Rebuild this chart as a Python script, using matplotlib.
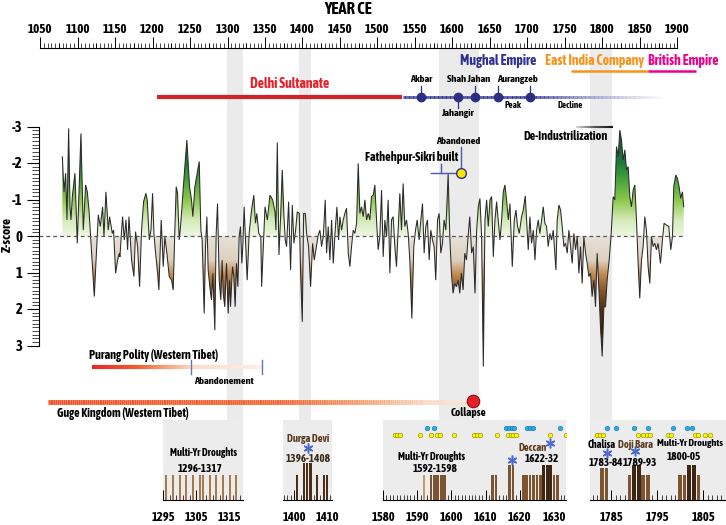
import numpy as np
import matplotlib
matplotlib.use("Agg")
import matplotlib.pyplot as plt
from matplotlib.colors import LinearSegmentedColormap
from matplotlib.collections import LineCollection
from matplotlib.path import Path
from matplotlib.ticker import FixedLocator
from matplotlib import font_manager

# pick a narrow bold face if one is installed
narrow = [f for f in font_manager.fontManager.ttflist
          if "Narrow" in f.name or "Condensed" in f.name
          or f.stretch in ("condensed", "semi-condensed", "extra-condensed", "ultra-condensed")]
narrow.sort(key=lambda f: (0 if str(f.weight) in ("bold", "700", "semibold", "600") else 1, f.name))
if narrow:
    FONT, STRETCH, SC = narrow[0].name, narrow[0].stretch, 1.0
else:
    FONT, STRETCH, SC = "Liberation Sans", "normal", 0.86
plt.rcParams["font.family"] = [FONT, "DejaVu Sans"]
plt.rcParams["font.stretch"] = STRETCH
plt.rcParams["font.weight"] = "bold"

# ---------------- data ----------------
years = [1079.8, 1082.0, 1084.2, 1086.0, 1088.2, 1090.0, 1091.3, 1093.1, 1096.6, 1099.7,
         1104.6, 1107.7, 1110.8, 1113.1, 1115.3, 1118.0, 1122.4, 1127.7, 1130.4, 1133.5,
         1135.3, 1137.9, 1141.0, 1142.8, 1146.4, 1148.1, 1150.8, 1153.5, 1155.7, 1156.6,
         1158.8, 1160.1, 1162.4, 1164.6, 1166.8, 1168.6, 1172.1, 1175.2, 1177.4, 1180.1,
         1182.8, 1185.4, 1188.1, 1191.2, 1193.0, 1195.7, 1197.9, 1200.1, 1201.9, 1204.1,
         1206.8, 1208.5, 1211.6, 1214.3, 1216.5, 1219.2, 1222.3, 1225.4, 1227.6, 1229.8,
         1231.6, 1233.4, 1235.6, 1236.9, 1238.7, 1241.8, 1245.8, 1249.4, 1252.0, 1253.8,
         1256.5, 1262.3, 1264.5, 1266.2, 1268.9, 1270.7, 1272.5, 1274.2, 1276.9, 1278.7,
         1280.5, 1283.1, 1284.9, 1286.7, 1288.9, 1291.1, 1292.9, 1294.2, 1296.4, 1298.7,
         1300.9, 1302.7, 1304.0, 1306.7, 1308.4, 1310.2, 1312.0, 1313.8, 1315.5, 1317.3,
         1319.1, 1320.4, 1322.2, 1326.2, 1328.9, 1332.0, 1335.1, 1337.3, 1339.1, 1341.7,
         1344.4, 1345.5, 1350.0, 1353.1, 1356.6, 1360.2, 1363.3, 1364.6, 1366.4, 1368.6,
         1370.8, 1373.0, 1375.3, 1377.0, 1378.8, 1381.5, 1384.1, 1386.4, 1388.6, 1390.8,
         1393.0, 1395.7, 1397.5, 1399.7, 1401.5, 1403.7, 1405.5, 1408.1, 1410.8, 1413.5,
         1415.7, 1417.9, 1421.0, 1423.2, 1425.4, 1427.7, 1430.3, 1432.1, 1434.3, 1436.5,
         1438.8, 1441.0, 1443.6, 1445.9, 1448.1, 1449.9, 1452.1, 1454.3, 1456.5, 1458.7,
         1461.0, 1463.2, 1465.4, 1467.6, 1469.8, 1472.1, 1474.3, 1476.5, 1478.7, 1481.0,
         1483.2, 1485.4, 1487.6, 1489.8, 1492.0, 1494.3, 1496.5, 1498.7, 1500.9, 1503.1,
         1505.4, 1507.6, 1509.8, 1512.0, 1514.2, 1516.5, 1518.7, 1520.9, 1523.1, 1525.3,
         1527.6, 1529.8, 1532.0, 1534.2, 1536.4, 1538.7, 1540.9, 1543.1, 1545.8, 1548.4,
         1550.7, 1552.9, 1555.5, 1557.8, 1560.0, 1562.2, 1564.4, 1566.6, 1568.9, 1571.1,
         1573.3, 1575.5, 1577.7, 1580.0, 1582.2, 1584.4, 1586.6, 1588.8, 1591.1, 1594.2,
         1596.4, 1598.6, 1600.8, 1603.0, 1605.3, 1607.5, 1609.7, 1611.9, 1614.1, 1616.4,
         1618.6, 1620.8, 1623.0, 1625.5, 1627.7, 1630.0, 1632.2, 1634.4, 1636.6, 1638.8,
         1641.1, 1643.3, 1645.5, 1647.7, 1650.0, 1652.2, 1654.4, 1656.6, 1658.8, 1661.0,
         1663.3, 1665.5, 1667.7, 1669.9, 1672.1, 1674.4, 1676.6, 1679.7, 1682.4, 1684.6,
         1686.8, 1689.0, 1692.1, 1694.3, 1697.0, 1698.8, 1701.0, 1703.2, 1705.4, 1707.7,
         1709.9, 1712.1, 1714.3, 1716.5, 1718.8, 1721.0, 1723.2, 1725.4, 1727.6, 1729.9,
         1732.1, 1734.3, 1737.9, 1739.6, 1741.9, 1744.1, 1746.3, 1748.5, 1750.7, 1753.0,
         1755.2, 1757.4, 1759.6, 1761.8, 1764.1, 1766.3, 1768.5, 1770.7, 1772.9, 1775.1,
         1777.4, 1779.6, 1781.8, 1784.0, 1786.2, 1788.5, 1790.7, 1792.9, 1795.1, 1797.3,
         1799.6, 1801.8, 1804.0, 1806.2, 1808.9, 1811.6, 1814.2, 1816.4, 1818.7, 1820.9,
         1823.1, 1825.3, 1827.5, 1829.8, 1832.0, 1834.2, 1836.4, 1838.6, 1840.9, 1843.1,
         1845.3, 1847.5, 1849.7, 1852.0, 1854.2, 1856.4, 1858.6, 1860.8, 1863.1, 1865.3,
         1867.5, 1869.7, 1871.9, 1874.1, 1877.3, 1879.9, 1882.1, 1885.2, 1888.4, 1891.0,
         1893.3, 1895.0, 1897.7, 1899.9, 1902.1, 1904.3, 1906.5, 1908.3]
zscore = [-2.17, -1.21, -1.72, -0.44, -2.95, -0.80, -0.44, -1.08, -1.72, 0.20,
          -2.81, -0.16, -1.40, -1.21, -0.71, 0.20, 1.66, -0.58, -0.26, -0.80,
          0.02, -1.21, -0.16, -0.53, -0.07, -0.16, 1.02, 0.66, 0.47, 0.57,
          -0.16, -0.53, 0.11, -0.44, 0.38, -0.53, 0.66, 1.11, -0.12, 0.29,
          1.39, -0.16, -0.94, -1.17, -0.99, 0.11, -0.16, -1.17, -0.07, 0.47,
          1.02, 1.48, -0.44, 0.84, 0.02, 0.47, 1.11, 1.21, 1.48, -0.16,
          -1.35, -1.17, 0.11, -0.16, -0.62, -1.53, -2.63, -1.35, -0.99, -0.53,
          -1.35, -2.04, -0.16, 0.11, 2.12, 0.29, -0.53, 0.93, 1.48, 1.75,
          1.02, 2.58, -0.07, -0.89, 1.21, 1.75, 0.66, 1.57, 1.94, 0.75,
          2.12, 1.21, 1.94, 0.84, 1.11, 1.94, 0.75, 1.39, 0.02, -0.26,
          0.75, 0.29, -0.80, 1.21, -0.07, -0.71, -1.12, -0.35, -0.62, -0.07,
          0.02, 1.39, -0.80, -0.44, -1.12, -0.99, -0.66, -0.16, -2.56, 0.52,
          -0.53, -1.81, -0.53, 0.11, 0.29, -0.94, 0.93, -0.85, 0.20, -0.16,
          -0.66, -0.62, 1.02, 2.35, -0.62, -0.62, -0.07, 0.29, 1.39, 0.20,
          0.66, 0.38, -0.03, -0.16, 0.29, 0.02, -0.99, 0.47, -0.26, 0.66,
          -0.44, 0.75, -0.16, -0.80, 0.11, -0.53, -0.16, -0.44, -0.62, -0.76,
          0.47, 0.84, 0.29, -0.16, -0.07, -0.35, -1.99, -0.62, -0.80, -0.53,
          -0.99, -0.44, -0.62, -0.44, -1.08, -1.12, -1.40, -0.44, 0.38, 0.02,
          -1.26, 0.57, -0.44, 0.02, -0.99, 1.02, -0.44, -0.53, 0.29, 0.84,
          -0.16, -1.17, -0.16, -1.44, -0.26, -0.44, -0.07, 0.66, 2.26, 0.29,
          -0.16, -0.44, 0.11, -0.44, -0.89, 0.47, -0.26, -0.44, 0.66, -0.16,
          0.11, 0.29, 1.21, -0.44, -0.62, 0.47, 0.20, -0.44, -0.16, -1.70,
          0.02, 1.02, 1.57, 1.30, 1.39, 1.21, 1.57, 1.02, 1.48, 0.47,
          0.66, 0.02, -0.53, 0.47, 0.29, 1.57, -0.16, -0.80, -1.03, 0.02,
          3.58, -0.44, -0.99, -0.26, -0.99, -1.08, 0.57, -0.44, -0.94, -0.44,
          0.11, -0.44, -1.21, -1.40, -0.99, -0.44, -0.89, 0.84, -0.44, -0.71,
          -0.26, -0.07, -0.53, -0.71, -1.10, -0.44, 0.38, -0.53, 0.20, -0.16,
          0.66, -0.16, -0.44, -0.07, -0.44, -0.80, -0.35, -0.26, 0.29, -0.07,
          0.11, -0.16, 0.93, -0.44, -0.85, -0.71, -0.26, 0.29, 0.20, 0.47,
          -0.16, 0.29, 0.75, -0.07, 0.38, 0.02, 1.02, 0.29, 1.30, 0.02,
          0.47, 0.75, 1.11, 1.02, 1.66, 1.21, 1.94, 0.47, 1.39, 2.48,
          3.30, 1.94, 1.94, 1.21, 0.66, -0.07, -1.08, -0.99, -2.45, -2.17,
          -2.90, -2.63, -2.08, -2.36, -1.81, -1.90, -1.08, -0.80, -1.26, -1.40,
          -0.44, 0.75, 1.71, 0.66, 0.29, -0.53, -0.16, 0.84, 1.30, 0.02,
          0.29, 0.20, 0.38, 0.20, 0.75, 0.11, -0.35, -0.30, -0.26, 0.38,
          0.02, -1.35, -1.67, -1.58, -1.35, -1.03, -1.21, -0.80]

axis_years = list(range(1050, 1901, 50))
z_ticks = [-3, -2, -1, 0, 1, 2, 3]
band_spans = [(1299.3, 1320.7), (1395.3, 1411.3), (1582.0, 1635.3), (1783.3, 1812.7)]

mughal_rulers = [1558, 1607, 1630, 1661, 1703]

p1_bar_years = [1296, 1298, 1300, 1302, 1304, 1306, 1307, 1309, 1311, 1313, 1315, 1317]
p1_bar_h = [1.0] * 12
p2_bar_years = [1401, 1403, 1404, 1405, 1407, 1409, 1410]
p2_bar_h = [1.0, 1.5, 1.5, 1.5, 1.0, 1.0, 1.0]
p3_bar_years = [1592, 1594, 1595, 1596, 1597, 1598, 1612, 1613, 1617, 1618,
                1621, 1622, 1623, 1624, 1625, 1626, 1627, 1628, 1629, 1630, 1631]
p3_bar_h = [1.0, 1.0, 1.0, 1.0, 1.0, 1.0, 1.0, 1.0, 1.4, 1.4,
            1.0, 1.0, 1.0, 1.0, 1.0, 1.0, 1.4, 1.4, 1.4, 1.0, 1.0]
p4_bar_years = [1783, 1784, 1789, 1790, 1791, 1792, 1793, 1800, 1801, 1802, 1803, 1804]
p4_bar_h = [1.3, 1.3, 1.0, 1.4, 1.4, 1.0, 1.0, 1.0, 1.0, 1.4, 1.4, 1.0]
p3_blue = [1593, 1594.8, 1616.1, 1616.9, 1617.6, 1618.3, 1622, 1622.9, 1623.9, 1631.7]
p3_yellow = [1583.4, 1584.2, 1585.1, 1590.9, 1594, 1595.8, 1596.8, 1600.8, 1606.6, 1607.5,
             1608.3, 1613.2, 1616.6, 1617.3, 1618, 1619, 1628.8, 1633.4]
p4_blue = [1784.2, 1786.1, 1790.0, 1793.0, 1798.5, 1801.6, 1802.5]
p4_yellow = [1782.0, 1782.6, 1783.2, 1790.9, 1792.0, 1792.7, 1793.5, 1797.4, 1798.1,
             1803.2, 1803.9, 1805.4, 1806.5]

# ---------------- figure ----------------
W, H = 726, 525
fig = plt.figure(figsize=(W / 100, H / 100), dpi=100)
XL = (1050 - 40 / 0.75, 1050 + 686 / 0.75)

ax = fig.add_axes([0, 0, 1, 1])
ax.set_facecolor("white")
for s in ["top", "right", "bottom"]:
    ax.spines[s].set_visible(False)
ax.spines["left"].set_position(("data", 1048.7))
ax.spines["left"].set_bounds(-3, 3)
ax.spines["left"].set_linewidth(0.8)
ax.set_xticks([])
ax.set_yticks(z_ticks)
ax.set_yticklabels([str(t) for t in z_ticks], fontsize=10.5 * SC)
ax.yaxis.set_minor_locator(FixedLocator(np.arange(-3, 3.01, 0.1)))
ax.tick_params(axis="y", which="major", length=9, width=0.8, pad=3)
ax.tick_params(axis="y", which="minor", length=5, width=0.5)

for a, b in band_spans:
    ax.axvspan(a, b, ymin=1 - 420 / H, ymax=1 - 48 / H, color="#ebebeb", lw=0, zorder=0)

yr = np.array(years)
zs = np.array(zscore)
green = LinearSegmentedColormap.from_list("g", [(0, "#eef6e3"), (0.15, "#d3eab6"), (0.33, "#8cc84b"),
                                                (0.5, "#4da53d"), (0.67, "#1d7a3a"), (1, "#0a4c28")])
brown = LinearSegmentedColormap.from_list("b", [(0, "#e6e1d8"), (0.22, "#ddd1bf"), (0.35, "#c08a52"),
                                                (0.5, "#87542a"), (0.67, "#4f2f16"), (1, "#22150b")])
zz = np.linspace(-3.8, 3.8, 500)
img = np.array([green(min(-v / 3, 1)) if v < 0 else brown(min(v / 3, 1)) for v in zz])[:, None, :]
poly = ax.fill_between(yr, zs, 0, facecolor="none", edgecolor="none")
clip = Path.make_compound_path(*poly.get_paths())
im = ax.imshow(img, extent=(1070, 1915, -3.8, 3.8), origin="lower", aspect="auto",
               interpolation="bilinear", zorder=2)
im.set_clip_path(clip, transform=ax.transData)
ax.plot(yr, zs, color="#2a2a2a", lw=0.75, zorder=4, solid_joinstyle="miter")
ax.plot([1048.7, 1910], [0, 0], color="#555555", lw=0.9, ls=(0, (3, 2.5)), zorder=5)
ax.set_xlim(*XL)
ax.set_ylim((H - 236) / 36.5, -236 / 36.5)

# overlay with years on x and pixels on y
ann = fig.add_axes([0, 0, 1, 1])
ann.set_xlim(*XL)
ann.set_ylim(H, 0)
ann.axis("off")
ann.patch.set_visible(False)


def gradline(x0, x1, y, stops, lw):
    cm = LinearSegmentedColormap.from_list("l", stops)
    xs = np.linspace(x0, x1, 200)
    segs = [[(xs[i], y), (xs[i + 1], y)] for i in range(len(xs) - 1)]
    lc = LineCollection(segs, colors=cm(np.linspace(0, 1, len(segs))), linewidths=lw, capstyle="butt")
    ann.add_collection(lc)


def label(x, y, s, size, **kw):
    ann.text(x, y, s, fontsize=size * SC, ha="center", va="center", **kw)


label(1461, 9, "YEAR CE", 12)
label(1007, 234, "Z-score", 9.5, rotation=90)

# dynasties
ann.plot([1206, 1533], [97, 97], color="#d2232a", lw=3, solid_capstyle="butt")
label(1383, 84, "Delhi Sultanate", 10, color="#e8202a")
gradline(1534, 1885, 97, [(0, "#2e3192"), (0.48, "#2e3192"), (0.75, "#a3a6d4"), (1, "#ffffff")], 2)
label(1661, 61, "Mughal Empire", 10, color="#2e3192")
label(1790, 61, "East India Company", 10, color="#f7941d")
ann.plot([1758, 1861], [71, 71], color="#f7941d", lw=1.8, solid_capstyle="butt")
label(1907, 61, "British Empire", 10, color="#ec008c")
ann.plot([1861, 1925], [71, 71], color="#ec008c", lw=1.8, solid_capstyle="butt")
for x, up in zip(mughal_rulers, [True, False, True, True, True]):
    ann.plot([x, x], [97, 86 if up else 108], color="#2e3192", lw=0.9)
ann.plot(mughal_rulers, [97] * len(mughal_rulers), "o", ms=6, color="#2b2e83", zorder=5)
label(mughal_rulers[0], 80, "Akbar", 7.5)
label(mughal_rulers[1], 114, "Jahangir", 7.5)
label(1621, 80, "Shah Jahan", 7.5)
label(1687, 80, "Aurangzeb", 7.5)
label(1681, 105, "Peak", 6.5)
label(1757, 106, "Decline", 6.5)

# events
gradline(1765, 1814, 127, [(0, "#d8d8d8"), (0.5, "#555555"), (1, "#111111")], 1.5)
label(1750, 137, "De-Industrilization", 8.7)
label(1546, 157, "Fathehpur-Sikri built", 8.8)
label(1607, 141, "Abandoned", 7.5)
ann.plot([1571, 1611], [173, 173], color="#4a5aa8", lw=1)
ann.plot([1585, 1585], [164, 173], color="#4a5aa8", lw=1)
ann.plot([1611, 1611], [147, 173], color="#4a5aa8", lw=1)
ann.plot([1611], [173], "o", ms=7, mfc="#ffe600", mec="#2e3192", mew=1, zorder=6)

gradline(1119, 1346, 367, [(0, "#e42a27"), (0.25, "#f05a2c"), (0.45, "#f8a77e"), (0.6, "#fcdcc8"),
                           (1, "#fdeee5")], 3)
for x in [1251, 1346]:
    ann.plot([x, x], [360, 374], color="#6c73b5", lw=1)
label(1201, 355, "Purang Polity (Western Tibet)", 8.7)
label(1295, 382, "Abandonement", 7.5)
gradline(1061, 1627, 402, [(0, "#f05023"), (0.55, "#f26530"), (0.75, "#f6a273"), (0.9, "#fbdac6"),
                           (1, "#fde9de")], 3.5)
ann.plot([1627], [401], "o", ms=9, mfc="#e8202a", mec="#8a1010", mew=0.8, zorder=6)
label(1161, 413, "Guge Kingdom (Western Tibet)", 8.6)
label(1621, 412, "Collapse", 8)

# top year axis
top = fig.add_axes([40 / W, 1 - 48 / H, 637.5 / W, 9 / H])
top.set_xlim(1050, 1900)
top.set_ylim(0, 1)
top.patch.set_visible(False)
for s in ["top", "left", "right"]:
    top.spines[s].set_visible(False)
top.spines["bottom"].set_linewidth(0.8)
top.set_yticks([])
top.set_xticks(axis_years)
top.set_xticklabels([str(y) for y in axis_years], fontsize=9.5 * SC)
top.xaxis.set_minor_locator(FixedLocator(np.arange(1050, 1901, 5)))
top.tick_params(axis="x", which="both", direction="in", bottom=True, top=False,
                labelbottom=False, labeltop=True, pad=2)
top.tick_params(axis="x", which="major", length=8, width=0.7)
top.tick_params(axis="x", which="minor", length=3.5, width=0.5)
top.vlines(np.arange(1075, 1900, 50), 0, 0.6, color="black", lw=0.6)


# bottom drought panels
def panel(x0, x1, lim, labels, bar_years, bar_h, colors, width):
    p = fig.add_axes([x0 / W, 25 / H, (x1 - x0) / W, 80 / H])
    p.set_facecolor("#ececec")
    p.set_xlim(*lim)
    p.set_ylim(0, 3.2)
    for s in ["top", "left", "right"]:
        p.spines[s].set_visible(False)
    p.spines["bottom"].set_linewidth(0.8)
    p.set_yticks([])
    p.set_xticks(labels)
    p.set_xticklabels([str(v) for v in labels], fontsize=9 * SC)
    p.xaxis.set_minor_locator(FixedLocator(np.arange(np.ceil(lim[0]), lim[1], 1)))
    p.tick_params(axis="x", which="both", direction="in", pad=8)
    p.tick_params(axis="x", which="major", length=7, width=0.7)
    p.tick_params(axis="x", which="minor", length=3.5, width=0.5)
    p.bar(bar_years, bar_h, width=width, color=colors, zorder=3)
    return p


def ptext(p, x, y, s, size=7.6, **kw):
    p.text(x, y, s, fontsize=size * SC, va="center", **{"ha": "center", **kw})


def pstar(p, x, y):
    p.plot([x], [y], marker=(6, 2, 0), ms=7, mew=1.1, color="#4a6ad0", zorder=5)


def pdots(p, blue, yellow):
    p.plot(blue, [2.88] * len(blue), "o", ms=3.3, mfc="#29abe2", mec="#1b75bc", mew=0.4)
    p.plot(yellow, [2.6] * len(yellow), "o", ms=3.3, mfc="#fff200", mec="#8c8c00", mew=0.4)


mid = "#7d5430"
dark = "#3e2614"
p1 = panel(163, 243, (1295, 1319), [1295, 1305, 1315], p1_bar_years, p1_bar_h, "#a67a4c", 0.6)
ptext(p1, 1307, 1.88, "Multi-Yr Droughts")
ptext(p1, 1306.1, 1.24, "1296-1317", 8)

p2 = panel(283, 332, (1396.7, 1411.5), [1400, 1410], p2_bar_years, p2_bar_h, "#4a2e18", 0.7)
ptext(p2, 1404.3, 2.48, "Durga Devi", color="#5c3a1e")
pstar(p2, 1404.3, 2.08)
ptext(p2, 1404.3, 1.68, "1396-1408", 8, color="#3b2a1a")

c3 = ["#c49a6c"] + [mid] * 15 + [dark] * 3 + [mid] * 2
p3 = panel(383, 566, (1580, 1633.5), [1580, 1590, 1600, 1610, 1620, 1630], p3_bar_years, p3_bar_h, c3, 0.8)
pdots(p3, p3_blue, p3_yellow)
ptext(p3, 1594.3, 1.74, "Multi-Yr Droughts")
ptext(p3, 1595.2, 1.26, "1592-1598", 8)
ptext(p3, 1623.6, 2.1, "Deccan", color="#5c3a1e")
pstar(p3, 1628.9, 2.28)
pstar(p3, 1617.7, 1.6)
ptext(p3, 1626.5, 1.68, "1622-32", 8)

c4 = [mid, mid, mid, dark, dark, mid, mid, mid, mid, dark, dark, mid]
p4 = panel(590, 726, (1780.4, 1810.0), [1785, 1795, 1805], p4_bar_years, p4_bar_h, c4, 0.8)
pdots(p4, p4_blue, p4_yellow)
ptext(p4, 1783.0, 2.24, "Chalisa")
ptext(p4, 1790.2, 2.24, "Doji Bara", color="#5c3a1e")
ptext(p4, 1809.4, 2.24, "Multi-Yr Droughts", 7.4, ha="right")
pstar(p4, 1784.1, 1.89)
pstar(p4, 1790.2, 1.96)
ptext(p4, 1783.9, 1.52, "1783-84", 8)
ptext(p4, 1791.3, 1.52, "1789-93", 8)
ptext(p4, 1800.9, 1.73, "1800-05", 8)

fig.savefig("out.png", dpi=100)
